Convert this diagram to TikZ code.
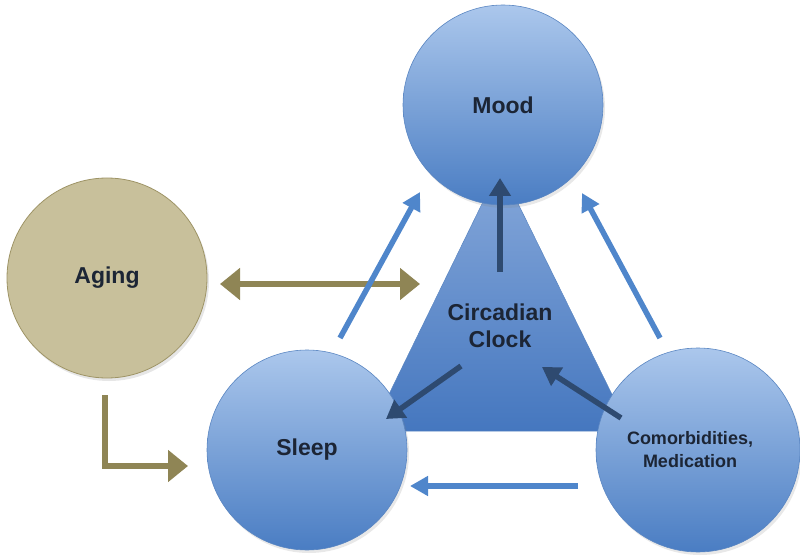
\documentclass[tikz,border=0pt]{standalone}
\usepackage{fontspec}
\setmainfont{Liberation Sans}
\usetikzlibrary{arrows.meta,shadows}
\definecolor{circtop}{HTML}{ABC7EC}
\definecolor{circbot}{HTML}{4A7DC3}
\definecolor{circedge}{HTML}{5A86C2}
\definecolor{tritop}{HTML}{86A8DA}
\definecolor{tribot}{HTML}{4577BF}
\definecolor{agefill}{HTML}{C8C09B}
\definecolor{ageedge}{HTML}{9E9466}
\definecolor{olive}{HTML}{8F8555}
\definecolor{lblue}{HTML}{4F86CB}
\definecolor{dblue}{HTML}{2E4A70}
\definecolor{txt}{HTML}{1C2535}
\tikzset{
  bubble/.style={circle, minimum size=200pt, inner sep=0pt, top color=circtop, bottom color=circbot, draw=circedge, line width=0.6pt, align=center, text=txt, font=\bfseries\fontsize{23}{27}\selectfont, drop shadow={opacity=0.18, shadow xshift=2pt, shadow yshift=-3pt}},
  agebubble/.style={circle, minimum size=200pt, inner sep=0pt, fill=agefill, draw=ageedge, line width=0.8pt, text=txt, font=\bfseries\fontsize{23}{27}\selectfont, drop shadow={opacity=0.2, shadow xshift=2pt, shadow yshift=-3pt}},
  lightarrow/.style={draw=lblue, line width=5.5pt, -{Triangle[width=19pt,length=18pt]}},
  darkarrow/.style={draw=dblue, line width=5.5pt, -{Triangle[width=21pt,length=18pt]}},
  olivearrow/.style={draw=olive, line width=6.5pt}
}
\begin{document}
\begin{tikzpicture}[x=1pt,y=1pt]
\useasboundingbox (0,0) rectangle (800,555);
% triangle
\shade[top color=tritop, bottom color=tribot, draw=circedge, line width=0.5pt]
  (500,388) coordinate (apex) -- (371,124) -- (630,124) -- cycle;
\node[text=txt, font=\bfseries\fontsize{23}{27}\selectfont, align=center] (clock) at (500,229) {Circadian\\Clock};
% circles
\node[bubble] (mood) at (503,450) {Mood};
\node[agebubble] (aging) at (107,277) {Aging};
\node[bubble] (sleep) at (307,105) {Sleep};
\node[bubble, minimum size=204pt, font=\bfseries\fontsize{18}{23}\selectfont] (comorb) at (698,105) {\hspace*{-16pt}Comorbidities,\\\hspace*{-16pt}Medication};
% coordinates
\coordinate (m1) at (500,283); \coordinate (m2) at (500,377);
\coordinate (cs1) at (461,189); \coordinate (cs2) at (386,136);
\coordinate (cc1) at (621,137); \coordinate (cc2) at (542,188);
\coordinate (sm1) at (340,217); \coordinate (sm2) at (420,363);
\coordinate (cm1) at (660,217); \coordinate (cm2) at (582,362);
\coordinate (csl1) at (578,69); \coordinate (csl2) at (410,69);
\coordinate (ad1) at (220,271); \coordinate (ad2) at (420,271);
\coordinate (al1) at (105,160); \coordinate (al2) at (105,89); \coordinate (al3) at (188,89);
% olive arrows
\draw[olivearrow, {Triangle[width=31pt,length=20pt]}-{Triangle[width=31pt,length=20pt]}] (ad1) -- (ad2);
\draw[olivearrow, -{Triangle[width=31pt,length=20pt]}] (al1) -- (al2) -- (al3);
% light arrows
\draw[lightarrow] (sm1) -- (sm2);
\draw[lightarrow] (cm1) -- (cm2);
\draw[lightarrow] (csl1) -- (csl2);
% dark arrows
\draw[darkarrow] (m1) -- (m2);
\draw[darkarrow] (cs1) -- (cs2);
\draw[darkarrow] (cc1) -- (cc2);
\end{tikzpicture}
\end{document}
